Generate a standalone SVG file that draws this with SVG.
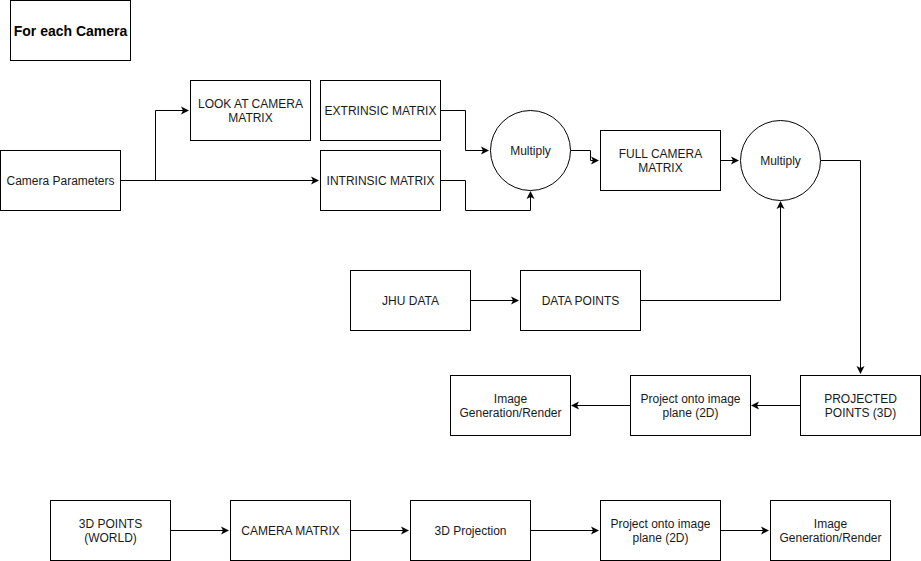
<svg xmlns="http://www.w3.org/2000/svg" width="921" height="561" viewBox="0 0 921 561">
<defs>
<marker id="arr" markerWidth="10" markerHeight="10" refX="7" refY="4.5" orient="auto" markerUnits="userSpaceOnUse">
<path d="M0,0.5 L8,4.5 L0,8.5 L2,4.5 Z" fill="#000"/>
</marker>
<style>
rect,circle{fill:#fff;stroke:#000;stroke-width:1}
text{font-family:"Liberation Sans",Arial,Helvetica,sans-serif;font-size:12px;fill:#1a1a1a;text-anchor:middle;dominant-baseline:central}
.c path{fill:none;stroke:#000;stroke-width:1;marker-end:url(#arr)}
.b{font-weight:bold;font-size:14px;fill:#000}
</style>
</defs>
<rect x="0" y="0" width="921" height="561" style="fill:#fff;stroke:none"/>
<g class="c" id="connectors">
<path d="M120.5,180.5 L318,180.5"/>
<path d="M155.5,180.5 L155.5,110.5 L188,110.5"/>
<path d="M440.5,110.5 L465.5,110.5 L465.5,150.5 L488,150.5"/>
<path d="M440.5,180.5 L465.5,180.5 L465.5,210.5 L530.5,210.5 L530.5,192"/>
<path d="M570.5,150.5 L590.5,150.5 L590.5,160.5 L598,160.5"/>
<path d="M720.5,160.5 L738,160.5"/>
<path d="M470.5,300.5 L518,300.5"/>
<path d="M640.5,300.5 L780.5,300.5 L780.5,202"/>
<path d="M820.5,160.5 L860.5,160.5 L860.5,373"/>
<path d="M800.5,405.5 L752,405.5"/>
<path d="M630.5,405.5 L572,405.5"/>
<path d="M170.5,530.5 L228,530.5"/>
<path d="M350.5,530.5 L408,530.5"/>
<path d="M530.5,530.5 L598,530.5"/>
<path d="M720.5,530.5 L768,530.5"/>
</g>
<g id="for-each"><rect x="10.5" y="0.5" width="120" height="60"/><text class="b" x="70.5" y="30.5">For each Camera</text></g>
<g id="camera-params"><rect x="0.5" y="150.5" width="120" height="60"/><text x="60.5" y="180.5">Camera Parameters</text></g>
<g id="look-at"><rect x="190.5" y="80.5" width="120" height="60"/><text x="250.5" y="103.5">LOOK AT CAMERA</text><text x="250.5" y="117.5">MATRIX</text></g>
<g id="extrinsic"><rect x="320.5" y="80.5" width="120" height="60"/><text x="380.5" y="110.5">EXTRINSIC MATRIX</text></g>
<g id="intrinsic"><rect x="320.5" y="150.5" width="120" height="60"/><text x="380.5" y="180.5">INTRINSIC MATRIX</text></g>
<g id="multiply1"><circle cx="530.5" cy="150.5" r="40"/><text x="530.5" y="150.5">Multiply</text></g>
<g id="full-camera"><rect x="600.5" y="130.5" width="120" height="60"/><text x="660.5" y="153.5">FULL CAMERA</text><text x="660.5" y="167.5">MATRIX</text></g>
<g id="multiply2"><circle cx="780.5" cy="160.5" r="40"/><text x="780.5" y="160.5">Multiply</text></g>
<g id="jhu"><rect x="350.5" y="270.5" width="120" height="60"/><text x="410.5" y="300.5">JHU DATA</text></g>
<g id="data-points"><rect x="520.5" y="270.5" width="120" height="60"/><text x="580.5" y="300.5">DATA POINTS</text></g>
<g id="projected"><rect x="800.5" y="375.5" width="120" height="60"/><text x="860.5" y="398.5">PROJECTED</text><text x="860.5" y="412.5">POINTS (3D)</text></g>
<g id="project-plane"><rect x="630.5" y="375.5" width="120" height="60"/><text x="690.5" y="398.5">Project onto image</text><text x="690.5" y="412.5">plane (2D)</text></g>
<g id="image-gen"><rect x="450.5" y="375.5" width="120" height="60"/><text x="510.5" y="398.5">Image</text><text x="510.5" y="412.5">Generation/Render</text></g>
<g id="b-3dpoints"><rect x="50.5" y="500.5" width="120" height="60"/><text x="110.5" y="523.5">3D POINTS</text><text x="110.5" y="537.5">(WORLD)</text></g>
<g id="b-camera"><rect x="230.5" y="500.5" width="120" height="60"/><text x="290.5" y="530.5">CAMERA MATRIX</text></g>
<g id="b-3dproj"><rect x="410.5" y="500.5" width="120" height="60"/><text x="470.5" y="530.5">3D Projection</text></g>
<g id="b-project"><rect x="600.5" y="500.5" width="120" height="60"/><text x="660.5" y="523.5">Project onto image</text><text x="660.5" y="537.5">plane (2D)</text></g>
<g id="b-image"><rect x="770.5" y="500.5" width="120" height="60"/><text x="830.5" y="523.5">Image</text><text x="830.5" y="537.5">Generation/Render</text></g>
</svg>
